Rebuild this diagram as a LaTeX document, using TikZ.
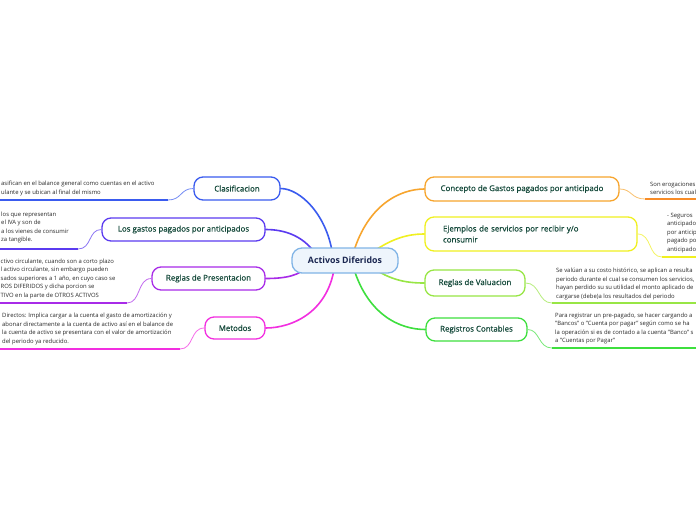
\documentclass[tikz,border=0pt]{standalone}
\usepackage{fontspec}
\setmainfont{Open Sans}
\newfontfamily\medfont[FakeBold=0.5]{Open Sans}
\usetikzlibrary{calc,backgrounds}
\definecolor{nodetext}{HTML}{14493A}
\definecolor{centertext}{HTML}{1A2650}
\definecolor{notetext}{HTML}{2A2A2A}
\definecolor{cblue}{HTML}{3A5BEF}
\definecolor{cpurple}{HTML}{5B3BF0}
\definecolor{cviolet}{HTML}{A82BE8}
\definecolor{cmagenta}{HTML}{F22EE0}
\definecolor{corange}{HTML}{F7A52E}
\definecolor{cyellow}{HTML}{F0F020}
\definecolor{clime}{HTML}{98E645}
\definecolor{cgreen}{HTML}{3EDF3E}
\definecolor{ccentre}{HTML}{80B4E6}
\definecolor{ccentrefill}{HTML}{EEF5FC}
\begin{document}
\begin{tikzpicture}[x=1pt,y=-1pt,
  topic/.style={draw=#1, rounded corners=9pt, line width=1.3pt, fill=white,
    text=nodetext, font=\medfont\fontsize{7.9}{11}\selectfont, inner sep=0pt},
  centre/.style={draw=ccentre, rounded corners=10pt, line width=1.3pt, fill=ccentrefill,
    text=centertext, font=\bfseries\fontsize{8.8}{10}\selectfont, inner sep=0pt},
  note/.style={align=left, anchor=north west, inner sep=0pt, text=notetext,
    font=\fontsize{5.9}{8.5}\selectfont},
  branch/.style={draw=#1, line width=1.6pt, line cap=round},
  twig/.style={draw=#1!70, line width=0.8pt},
  uline/.style={draw=#1, line width=2.2pt},
]
\useasboundingbox (0,0) rectangle (696,520);

% central node
\node[centre, minimum width=106pt, minimum height=25pt] (c) at (345,260.5) {Activos Diferidos};

% left topics
\node[topic=cblue, minimum width=86pt, minimum height=23pt] (cl) at (237,188.5) {Clasificacion};
\node[topic=cpurple, minimum width=163pt, minimum height=23pt] (ga) at (183.5,229.5) {Los gastos pagados por anticipados};
\node[topic=cviolet, minimum width=113pt, minimum height=23pt] (rp) at (208.5,278.5) {Reglas de Presentacion};
\node[topic=cmagenta, minimum width=60pt, minimum height=22pt] (me) at (235,328) {Metodos};

% right topics
\node[topic=corange, minimum width=194pt, minimum height=24pt] (co) at (522,189) {Concepto de Gastos pagados por anticipado};
\node[topic=cyellow, text width=176pt, inner xsep=18pt, align=left, minimum height=34pt] (ej) at (531,234)
  {Ejemplos de servicios por recibir y/o\\consumir};
\node[topic=clime, minimum width=100pt, minimum height=26pt] (rv) at (475,283) {Reglas de Valuacion};
\node[topic=cgreen, minimum width=101pt, minimum height=23pt] (rc) at (476.5,329.5) {Registros Contables};

% notes
\node[note] (n1) at (1,180.8) {asifican en el balance general como cuentas en el activo\\ulante y se ubican al final del mismo};
\node[note] (n2) at (1,211.8) {los que representan\\el IVA y son de\\a los vienes de consumir\\za tangible.};
\node[note] (n3) at (0.5,258.8) {ctivo circulante, cuando son a corto plazo\\l activo circulante, sin embargo pueden\\sados superiores a 1 año, en cuyo caso se\\ROS DIFERIDOS y dicha porcion se\\TIVO en la parte de OTROS ACTIVOS};
\node[note] (n4) at (2,312.8) {Directos: Implica cargar a la cuenta el gasto de amortización y\\abonar directamente a la cuenta de activo así en el balance de\\la cuenta de activo se presentara con el valor de amortización\\del periodo ya reducido.};
\node[note] (n5) at (650,181.8) {Son erogaciones\\servicios los cual};
\node[note] (n6) at (667,212.8) {- Seguros\\anticipado\\por anticip\\pagado po\\anticipado};
\node[note] (n7) at (556,267.8) {Se valúan a su costo histórico, se aplican a resulta\\periodo durante el cual se consumen los servicios,\\hayan perdido su su utilidad el monto aplicado de\\cargarse (debe)a los resultados del periodo};
\node[note] (n8) at (555,312.8) {Para registrar un pre-pagado, se hacer cargando a\\"Bancos" o "Cuenta por pagar" según como se ha\\la operación si es de contado a la cuenta "Banco" s\\a "Cuentas por Pagar"};

% underline end points
\coordinate (a1) at (0,200);   \coordinate (b1) at (168,200);
\coordinate (a2) at (0,249);   \coordinate (b2) at (78,249);
\coordinate (a3) at (0,303);   \coordinate (b3) at (127,303);
\coordinate (a4) at (0,349);   \coordinate (b4) at (180,349);
\coordinate (b5) at (645,199); \coordinate (a5) at (696,199);
\coordinate (b6) at (662,257); \coordinate (a6) at (696,257);
\coordinate (b7) at (552,303); \coordinate (a7) at (696,303);
\coordinate (b8) at (552,348); \coordinate (a8) at (696,348);

\begin{scope}[on background layer]
  \fill[white] (0,0) rectangle (696,520);
  % branches from the centre
  \draw[branch=cblue] ($(c.center)+(-12,-3)$) .. controls (328,215) and (300,188.5) .. (cl.east);
  \draw[branch=cpurple] ($(c.center)+(-27,-3)$) .. controls (305,236) and (285,229.5) .. (ga.east);
  \draw[branch=cviolet] ($(c.center)+(-35,4)$) .. controls (300,276) and (285,278.5) .. (rp.east);
  \draw[branch=cmagenta] ($(c.center)+(-10,2)$) .. controls (330,312) and (292,328) .. (me.east);
  \draw[branch=corange] ($(c.center)+(7,-3)$) .. controls (366,205) and (400,189) .. (co.west);
  \draw[branch=cyellow] ($(c.center)+(20,-3)$) .. controls (388,240) and (405,234) .. (ej.west);
  \draw[branch=clime] ($(c.center)+(20,2)$) .. controls (388,280) and (405,283) .. (rv.west);
  \draw[branch=cgreen] ($(c.center)+(7,2)$) .. controls (366,315) and (400,329.5) .. (rc.west);
\end{scope}

% twigs to the notes
\draw[twig=cblue] (cl.west) .. controls (180,188.5) and (182,200) .. (b1);
\draw[uline=cblue] (b1) -- (a1);
\draw[twig=cpurple] (ga.west) .. controls (88,229.5) and (92,249) .. (b2);
\draw[uline=cpurple] (b2) -- (a2);
\draw[twig=cviolet] (rp.west) .. controls (137,278.5) and (141,303) .. (b3);
\draw[uline=cviolet] (b3) -- (a3);
\draw[twig=cmagenta] (me.west) .. controls (190,328) and (194,349) .. (b4);
\draw[uline=cmagenta] (b4) -- (a4);
\draw[twig=corange] (co.east) .. controls (632,189) and (631,199) .. (b5);
\draw[uline=corange!85!red] (b5) -- (a5);
\draw[twig=cyellow] (ej.east) .. controls (652,234) and (648,257) .. (b6);
\draw[uline=cyellow] (b6) -- (a6);
\draw[twig=clime] (rv.east) .. controls (540,283) and (538,303) .. (b7);
\draw[uline=clime] (b7) -- (a7);
\draw[twig=cgreen] (rc.east) .. controls (540,329.5) and (538,348) .. (b8);
\draw[uline=cgreen] (b8) -- (a8);
\end{tikzpicture}
\end{document}
